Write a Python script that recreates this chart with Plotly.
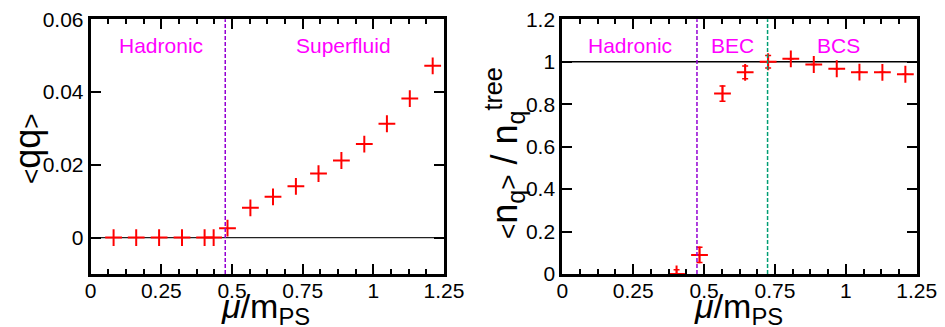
import plotly.graph_objects as go

# ---- data ----
mu_left = [0.081, 0.161, 0.242, 0.323, 0.403, 0.435, 0.484, 0.565, 0.645, 0.726,
           0.806, 0.887, 0.968, 1.048, 1.129, 1.210]
qq = [0.0, 0.0, 0.0, 0.0, 0.0, 0.0, 0.0026, 0.0082, 0.0112, 0.0141,
      0.0176, 0.0212, 0.0257, 0.0313, 0.0382, 0.0472]

mu_right = [0.403, 0.484, 0.565, 0.645, 0.726, 0.806, 0.887, 0.968, 1.048, 1.129, 1.210]
nq = [0.0, 0.090, 0.850, 0.950, 1.000, 1.014, 0.987, 0.967, 0.951, 0.950, 0.941]
nq_err = [0.020, 0.036, 0.036, 0.030, 0.030, 0.0, 0.0, 0.0, 0.0, 0.0, 0.0]

x_ticks = [0, 0.25, 0.5, 0.75, 1.0, 1.25]
x_ticktext = ["0", "0.25", "0.5", "0.75", "1", "1.25"]
yl_ticks = [0, 0.02, 0.04, 0.06]
yl_ticktext = ["0", "0.02", "0.04", "0.06"]
yr_ticks = [0, 0.2, 0.4, 0.6, 0.8, 1.0, 1.2]
yr_ticktext = ["0", "0.2", "0.4", "0.6", "0.8", "1", "1.2"]

mu_hadron_sf = 0.476      # hadronic / superfluid boundary (left)
mu_hadron_bec = 0.475     # hadronic / BEC boundary (right)
mu_bec_bcs = 0.724        # BEC / BCS crossover (right)

left_labels = [("Hadronic", 0.25, 0.0528), ("Superfluid", 0.895, 0.0528)]
right_labels = [("Hadronic", 0.239, 1.075), ("BEC", 0.601, 1.075), ("BCS", 0.975, 1.075)]

LT = "<span style='font-size:26px'>&lt;</span>"
GT = "<span style='font-size:26px'>&gt;</span>"
x_title = "<i>μ</i>/m<sub>PS</sub>"
yl_title = LT + "qq" + GT
yr_title = LT + "n<sub>q</sub>" + GT + " / n<sub>q</sub><sup>tree</sup>"

FONT = "Liberation Sans, Arial, sans-serif"
RED = "#ff0000"
PURPLE = "#9400d3"
GREEN = "#009e73"
MAGENTA = "#ff00ff"
W, H = 945, 327

fig = go.Figure()

fig.add_trace(go.Scatter(
    x=mu_left, y=qq, mode="markers", xaxis="x", yaxis="y",
    marker=dict(symbol="cross-thin", size=12, line=dict(width=2, color=RED), color=RED),
    showlegend=False))

fig.add_trace(go.Scatter(
    x=mu_right, y=nq, mode="markers", xaxis="x2", yaxis="y2",
    marker=dict(symbol="cross-thin", size=12, line=dict(width=2, color=RED), color=RED),
    error_y=dict(type="data", array=nq_err, color=RED, thickness=1.5, width=3),
    showlegend=False))

axis_common = dict(
    range=[0, 1.25], tickvals=x_ticks, ticktext=x_ticktext,
    ticks="inside", ticklen=10, tickwidth=2, tickcolor="black",
    minor=dict(dtick=0.0625, ticks="inside", ticklen=5, tickwidth=2, tickcolor="black"),
    showline=True, linewidth=3, linecolor="black", mirror="allticks",
    showgrid=False, zeroline=False, automargin=False, ticklabelstandoff=-4,
    tickfont=dict(family=FONT, size=21, color="black"),
)
yaxis_common = dict(
    ticks="inside", ticklen=10, tickwidth=2, tickcolor="black",
    showline=True, linewidth=3, linecolor="black", mirror="allticks",
    showgrid=False, zeroline=False, automargin=False,
    tickfont=dict(family=FONT, size=21, color="black"),
)

ydom = [1 - 274 / H, 1 - 19.3 / H]

fig.update_layout(
    width=W, height=H,
    margin=dict(l=0, r=0, t=0, b=0),
    paper_bgcolor="white", plot_bgcolor="white",
    font=dict(family=FONT, color="black"),
    xaxis=dict(domain=[90.7 / W, 444 / W], anchor="y", **axis_common),
    xaxis2=dict(domain=[562.3 / W, 916.7 / W], anchor="y2", **axis_common),
    yaxis=dict(domain=ydom, anchor="x", range=[-0.01, 0.06],
               tickvals=yl_ticks, ticktext=yl_ticktext, **yaxis_common),
    yaxis2=dict(domain=ydom, anchor="x2", range=[0, 1.2],
                tickvals=yr_ticks, ticktext=yr_ticktext, **yaxis_common),
)

shapes = [
    dict(type="line", xref="x domain", yref="y", x0=0, x1=1, y0=0, y1=0,
         line=dict(color="#222222", width=1.2), layer="below"),
    dict(type="line", xref="x", yref="y domain", x0=mu_hadron_sf, x1=mu_hadron_sf, y0=0, y1=1,
         line=dict(color=PURPLE, width=1.5, dash="4px,2px")),
    dict(type="line", xref="x2 domain", yref="y2", x0=0, x1=1, y0=1, y1=1,
         line=dict(color="black", width=1.5), layer="below"),
    dict(type="line", xref="x2", yref="y2 domain", x0=mu_hadron_bec, x1=mu_hadron_bec, y0=0, y1=1,
         line=dict(color=PURPLE, width=1.5, dash="4px,2px")),
    dict(type="line", xref="x2", yref="y2 domain", x0=mu_bec_bcs, x1=mu_bec_bcs, y0=0, y1=1,
         line=dict(color=GREEN, width=1.5, dash="4px,2px")),
]
fig.update_layout(shapes=shapes)

annotations = []
for text, x, y in left_labels:
    annotations.append(dict(text=text, x=x, y=y, xref="x", yref="y", showarrow=False,
                            font=dict(family=FONT, size=21, color=MAGENTA)))
for text, x, y in right_labels:
    annotations.append(dict(text=text, x=x, y=y, xref="x2", yref="y2", showarrow=False,
                            font=dict(family=FONT, size=21, color=MAGENTA)))

# axis titles
for xr in ("x", "x2"):
    annotations.append(dict(text=x_title, x=0.62, xref=xr, y=1 - 308 / H, yref="paper",
                            xanchor="center", yanchor="middle", showarrow=False,
                            font=dict(family=FONT, size=34, color="black")))
annotations.append(dict(text=yl_title, x=27 / W, xref="paper", y=1 - 149 / H, yref="paper",
                        xanchor="center", yanchor="middle", textangle=-90, showarrow=False,
                        font=dict(family=FONT, size=36, color="black")))
annotations.append(dict(text=yr_title, x=504 / W, xref="paper", y=1 - 153 / H, yref="paper",
                        xanchor="center", yanchor="middle", textangle=-90, showarrow=False,
                        font=dict(family=FONT, size=36, color="black")))
fig.update_layout(annotations=annotations)

fig.write_html("out.html")
